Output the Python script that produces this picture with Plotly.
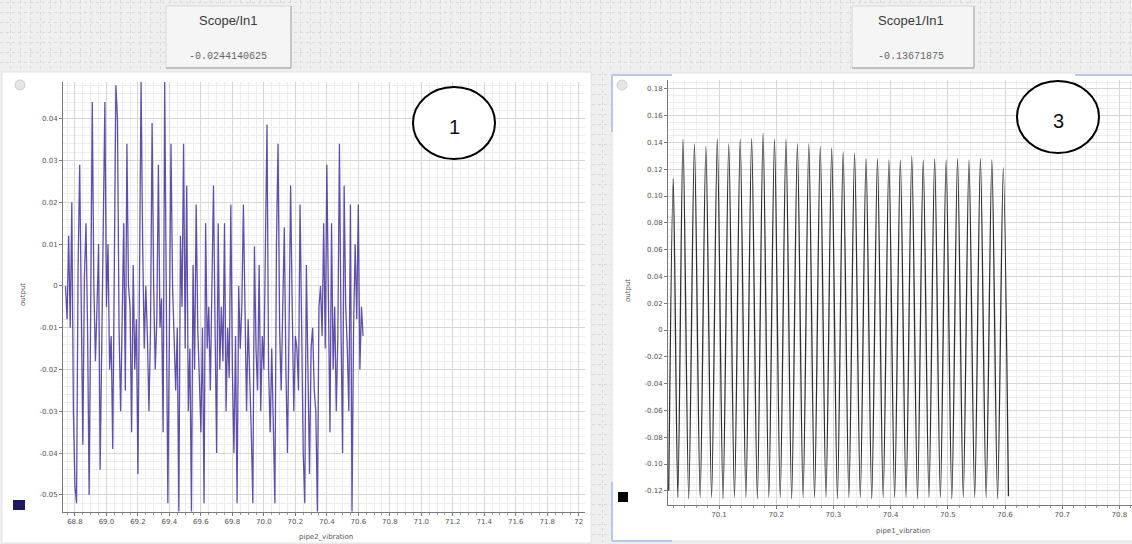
import plotly.graph_objects as go

W, H = 1132, 544

# ---------------- data ----------------
left_time = [
    68.74, 68.75, 68.76, 68.77, 68.78, 68.79, 68.80, 68.81, 68.82, 68.83,
    68.84, 68.85, 68.86, 68.87, 68.88, 68.89, 68.90, 68.91, 68.92, 68.93,
    68.94, 68.95, 68.96, 68.97, 68.98, 68.99, 69.00, 69.01, 69.02, 69.03,
    69.04, 69.05, 69.06, 69.07, 69.08, 69.09, 69.10, 69.11, 69.12, 69.13,
    69.14, 69.15, 69.16, 69.17, 69.18, 69.19, 69.20, 69.21, 69.22, 69.23,
    69.24, 69.25, 69.26, 69.27, 69.28, 69.29, 69.30, 69.31, 69.32, 69.33,
    69.34, 69.35, 69.36, 69.37, 69.38, 69.39, 69.40, 69.41, 69.42, 69.43,
    69.44, 69.45, 69.46, 69.47, 69.48, 69.49, 69.50, 69.51, 69.52, 69.53,
    69.54, 69.55, 69.56, 69.57, 69.58, 69.59, 69.60, 69.61, 69.62, 69.63,
    69.64, 69.65, 69.66, 69.67, 69.68, 69.69, 69.70, 69.71, 69.72, 69.73,
    69.74, 69.75, 69.76, 69.77, 69.78, 69.79, 69.80, 69.81, 69.82, 69.83,
    69.84, 69.85, 69.86, 69.87, 69.88, 69.89, 69.90, 69.91, 69.92, 69.93,
    69.94, 69.95, 69.96, 69.97, 69.98, 69.99, 70.00, 70.01, 70.02, 70.03,
    70.04, 70.05, 70.06, 70.07, 70.08, 70.09, 70.10, 70.11, 70.12, 70.13,
    70.14, 70.15, 70.16, 70.17, 70.18, 70.19, 70.20, 70.21, 70.22, 70.23,
    70.24, 70.25, 70.26, 70.27, 70.28, 70.29, 70.30, 70.31, 70.32, 70.33,
    70.34, 70.35, 70.36, 70.37, 70.38, 70.39, 70.40, 70.41, 70.42, 70.43,
    70.44, 70.45, 70.46, 70.47, 70.48, 70.49, 70.50, 70.51, 70.52, 70.53,
    70.54, 70.55, 70.56, 70.57, 70.58, 70.59, 70.60, 70.61, 70.62, 70.63]
left_value = [
    0.000, -0.008, 0.012, -0.010, 0.020, -0.030, -0.048, -0.052, 0.005, 0.029,
    -0.005, -0.038, 0.002, 0.015, -0.010, -0.050, -0.005, 0.044, 0.000, -0.018,
    -0.005, 0.010, -0.044, -0.010, 0.020, 0.044, -0.005, 0.010, -0.020, -0.012,
    -0.039, 0.010, 0.048, 0.040, -0.010, -0.030, -0.008, 0.015, -0.025, 0.034,
    0.000, -0.005, -0.035, 0.005, -0.020, -0.008, -0.045, 0.010, 0.049, 0.010,
    -0.015, 0.000, -0.012, -0.030, -0.010, 0.039, 0.000, -0.020, -0.008, 0.029,
    -0.010, -0.003, -0.035, 0.049, -0.010, -0.052, -0.010, 0.034, 0.000, -0.015,
    -0.025, -0.010, -0.054, 0.012, -0.005, 0.034, -0.015, 0.024, -0.030, -0.015,
    -0.054, 0.005, -0.020, 0.0195, -0.010, -0.022, -0.035, -0.010, -0.052, 0.015,
    -0.015, -0.005, -0.025, 0.000, 0.024, -0.010, -0.040, 0.015, -0.020, -0.005,
    -0.018, 0.015, -0.030, -0.010, -0.022, 0.0195, -0.020, -0.040, -0.012, -0.052,
    0.000, -0.015, -0.005, 0.0195, -0.010, -0.030, -0.008, -0.020, -0.035, -0.052,
    0.0095, -0.015, -0.025, 0.005, -0.030, -0.012, -0.020, 0.010, 0.0386, -0.020,
    -0.035, -0.015, -0.030, -0.052, 0.010, 0.034, -0.010, -0.025, -0.005, 0.014,
    -0.020, -0.040, -0.010, 0.024, -0.005, -0.030, -0.012, -0.015, -0.025, 0.0195,
    -0.010, -0.040, -0.052, 0.005, -0.020, -0.045, -0.015, -0.010, -0.025, -0.030,
    -0.054, -0.005, 0.000, -0.012, 0.015, -0.015, 0.029, -0.010, -0.035, 0.015,
    -0.020, -0.005, -0.030, -0.012, 0.034, -0.010, -0.040, 0.024, -0.005, -0.015,
    -0.030, 0.0195, -0.054, -0.010, 0.010, -0.008, 0.0195, -0.020, -0.005, -0.012]
assert len(left_time) == len(left_value)

right_peak_time = [70.020, 70.037, 70.057, 70.077, 70.097, 70.117, 70.137, 70.157, 70.177, 70.197,
                   70.217, 70.237, 70.257, 70.277, 70.297, 70.317, 70.337, 70.357, 70.377, 70.397,
                   70.417, 70.437, 70.457, 70.477, 70.497, 70.517, 70.537, 70.557, 70.577, 70.597]
right_peak_value = [0.113, 0.1425, 0.139, 0.137, 0.1425, 0.139, 0.1425, 0.143, 0.147, 0.1425,
                    0.1425, 0.139, 0.139, 0.137, 0.136, 0.133, 0.132, 0.128, 0.128, 0.127,
                    0.127, 0.130, 0.127, 0.128, 0.127, 0.128, 0.127, 0.128, 0.127, 0.121]
right_trough_time = [70.012, 70.028, 70.047, 70.067, 70.087, 70.107, 70.127, 70.147, 70.167, 70.187,
                     70.207, 70.227, 70.247, 70.267, 70.287, 70.307, 70.327, 70.347, 70.367, 70.387,
                     70.407, 70.427, 70.447, 70.467, 70.487, 70.507, 70.527, 70.547, 70.567, 70.587,
                     70.606]
right_trough_value = [-0.120, -0.125, -0.126, -0.125, -0.125, -0.126, -0.125, -0.125, -0.126, -0.125,
                      -0.125, -0.126, -0.125, -0.125, -0.125, -0.126, -0.125, -0.125, -0.126, -0.125,
                      -0.125, -0.125, -0.126, -0.125, -0.125, -0.126, -0.125, -0.125, -0.125, -0.126,
                      -0.124]

left_xticks = [68.8, 69.0, 69.2, 69.4, 69.6, 69.8, 70.0, 70.2, 70.4, 70.6, 70.8,
               71.0, 71.2, 71.4, 71.6, 71.8, 72.0]
left_xlabels = ["68.8", "69.0", "69.2", "69.4", "69.6", "69.8", "70.0", "70.2", "70.4",
                "70.6", "70.8", "71.0", "71.2", "71.4", "71.6", "71.8", "72"]
left_yticks = [-0.05, -0.04, -0.03, -0.02, -0.01, 0, 0.01, 0.02, 0.03, 0.04]
left_ylabels = ["-0.05", "-0.04", "-0.03", "-0.02", "-0.01", "0", "0.01", "0.02", "0.03", "0.04"]
right_xticks = [70.1, 70.2, 70.3, 70.4, 70.5, 70.6, 70.7, 70.8]
right_xlabels = ["70.1", "70.2", "70.3", "70.4", "70.5", "70.6", "70.7", "70.8"]
right_yticks = [-0.12, -0.10, -0.08, -0.06, -0.04, -0.02, 0, 0.02, 0.04, 0.06, 0.08,
                0.10, 0.12, 0.14, 0.16, 0.18]
right_ylabels = ["-0.12", "-0.10", "-0.08", "-0.06", "-0.04", "-0.02", "0", "0.02", "0.04",
                 "0.06", "0.08", "0.10", "0.12", "0.14", "0.16", "0.18"]

left_title, left_readout = "Scope/In1", "-0.0244140625"
right_title, right_readout = "Scope1/In1", "-0.13671875"

# interleave troughs and peaks of the right signal
right_time, right_value = [], []
for i in range(len(right_peak_time)):
    right_time += [right_trough_time[i], right_peak_time[i]]
    right_value += [right_trough_value[i], right_peak_value[i]]
right_time.append(right_trough_time[-1])
right_value.append(right_trough_value[-1])


def px(x):
    return x / W


def py(y):
    return 1 - y / H


fig = go.Figure()
fig.add_trace(go.Scatter(x=left_time, y=left_value, mode="lines",
                         line=dict(color="rgba(62,42,152,0.82)", width=1.3),
                         xaxis="x", yaxis="y", showlegend=False, hoverinfo="skip"))
fig.add_trace(go.Scatter(x=right_time, y=right_value, mode="lines",
                         line=dict(color="#303030", width=1.3, shape="spline", smoothing=0.8),
                         xaxis="x2", yaxis="y2", showlegend=False, hoverinfo="skip"))
fig.add_trace(go.Scatter(x=[], y=[], xaxis="x3", yaxis="y3", showlegend=False))
fig.add_trace(go.Scatter(x=[], y=[], xaxis="x4", yaxis="y4", showlegend=False))

tickfont = dict(family="DejaVu Sans", size=7, color="#555555")
common_axis = dict(showline=True, linecolor="#7a7a7a", linewidth=1, ticks="outside",
                   ticklen=3, tickcolor="#7a7a7a", tickfont=tickfont, zeroline=False,
                   showgrid=True, gridcolor="#d6d6d6", gridwidth=1)
bg_axis = dict(showgrid=True, gridcolor="#dadada", griddash="dot", showticklabels=False,
               zeroline=False, ticks="", dtick=10)

fig.update_layout(
    width=W, height=H, margin=dict(l=0, r=0, t=0, b=0),
    paper_bgcolor="#efefef", plot_bgcolor="rgba(0,0,0,0)",
    xaxis=dict(domain=[px(63), px(585)], range=[68.724, 72.04], tickvals=left_xticks,
               ticktext=left_xlabels, anchor="y",
               minor=dict(dtick=0.05, showgrid=True, gridcolor="#ededed", ticks="outside",
                          ticklen=2, tickcolor="#9a9a9a"), **common_axis),
    yaxis=dict(domain=[py(512), py(82)], range=[-0.0541, 0.0488], tickvals=left_yticks,
               ticktext=left_ylabels, anchor="x",
               minor=dict(dtick=0.002, showgrid=True, gridcolor="#ededed"), **common_axis),
    xaxis2=dict(domain=[px(668), 1.0], range=[70.0108, 70.822], tickvals=right_xticks,
                ticktext=right_xlabels, anchor="y2",
                minor=dict(dtick=0.02, showgrid=True, gridcolor="#ededed", ticks="outside",
                           ticklen=2, tickcolor="#9a9a9a"), **common_axis),
    yaxis2=dict(domain=[py(505), py(80)], range=[-0.1306, 0.1866], tickvals=right_yticks,
                ticktext=right_ylabels, anchor="x2",
                minor=dict(dtick=0.005, showgrid=True, gridcolor="#ededed"), **common_axis),
    xaxis3=dict(domain=[0, 1], range=[0, W], anchor="y3", **bg_axis),
    yaxis3=dict(domain=[py(72), 1], range=[0, 72], anchor="x3", **bg_axis),
    xaxis4=dict(domain=[px(592), px(611)], range=[0, 19], anchor="y4", **bg_axis),
    yaxis4=dict(domain=[0, py(72)], range=[0, 472], anchor="x4", **bg_axis),
)

shapes = []
# panel backgrounds
shapes.append(dict(type="rect", xref="paper", yref="paper", x0=px(2), x1=px(591),
                   y0=py(543), y1=py(72), fillcolor="white", line=dict(color="#e2e2e2", width=1),
                   layer="below"))
shapes.append(dict(type="rect", xref="paper", yref="paper", x0=px(612), x1=px(1133),
                   y0=py(541), y1=py(73), fillcolor="white", line=dict(color="#e2e2e2", width=1),
                   layer="below"))
# title boxes
for x0, x1 in [(166, 291), (852, 974)]:
    shapes.append(dict(type="rect", xref="paper", yref="paper", x0=px(x0), x1=px(x1),
                       y0=py(68), y1=py(6), fillcolor="#f5f5f5",
                       line=dict(color="#d8d8d8", width=1), layer="above"))
    shapes.append(dict(type="line", xref="paper", yref="paper", x0=px(x1), x1=px(x1),
                       y0=py(68), y1=py(6), line=dict(color="#bcbcbc", width=1.5), layer="above"))
    shapes.append(dict(type="line", xref="paper", yref="paper", x0=px(x0), x1=px(x1),
                       y0=py(68), y1=py(68), line=dict(color="#b4b4b4", width=1.5), layer="above"))
# selection brackets (blue) on right panel
blue = "#b9c8ea"
for (x0, y0, x1, y1) in [(612, 75, 612, 132), (612, 482, 612, 541), (612, 75, 672, 75),
                         (612, 541, 672, 541), (1075, 75, 1132, 75)]:
    shapes.append(dict(type="line", xref="paper", yref="paper", x0=px(x0), x1=px(x1),
                       y0=py(y0), y1=py(y1), line=dict(color=blue, width=2), layer="above"))
# small icons and legend swatches
shapes.append(dict(type="circle", xref="paper", yref="paper", x0=px(15), x1=px(25),
                   y0=py(90), y1=py(80), fillcolor="#e6e6e6", line=dict(color="#cccccc", width=1)))
shapes.append(dict(type="circle", xref="paper", yref="paper", x0=px(617), x1=px(627),
                   y0=py(90), y1=py(80), fillcolor="#e6e6e6", line=dict(color="#cccccc", width=1)))
shapes.append(dict(type="rect", xref="paper", yref="paper", x0=px(13), x1=px(25),
                   y0=py(510), y1=py(500), fillcolor="#1d1b5e", line=dict(width=0)))
shapes.append(dict(type="rect", xref="paper", yref="paper", x0=px(618), x1=px(628),
                   y0=py(502), y1=py(492), fillcolor="#000000", line=dict(width=0)))
# numbered ellipses
for cx, cy in [(454, 123), (1058, 117)]:
    shapes.append(dict(type="circle", xref="paper", yref="paper", x0=px(cx - 41), x1=px(cx + 41),
                       y0=py(cy + 36), y1=py(cy - 36), fillcolor="white",
                       line=dict(color="black", width=2), layer="above"))
fig.update_layout(shapes=shapes)

ann = []


def text(x, y, s, size, color="#333333", family="Liberation Sans", angle=0):
    ann.append(dict(xref="paper", yref="paper", x=px(x), y=py(y), text=s, showarrow=False,
                    font=dict(size=size, color=color, family=family), textangle=angle,
                    xanchor="center", yanchor="middle", borderpad=0))


text(228, 21, left_title, 13, "#3a3a3a", "Liberation Sans")
text(228, 57, left_readout, 10, "#666666", "Liberation Mono")
text(911, 21, right_title, 13, "#3a3a3a", "Liberation Sans")
text(911, 57, right_readout, 10, "#666666", "Liberation Mono")
text(23, 295, "output", 7, "#555555", "DejaVu Sans", angle=-90)
text(628, 290, "output", 7, "#555555", "DejaVu Sans", angle=-90)
text(326, 537, "pipe2_vibration", 7, "#555555", "DejaVu Sans")
text(903, 531, "pipe1_vibration", 7, "#555555", "DejaVu Sans")
text(454, 127, "1", 20, "#111111", "Liberation Sans")
text(1058, 121, "3", 20, "#111111", "Liberation Sans")
fig.update_layout(annotations=ann)

# the page's default body margin would shift the figure; remove it
fig.write_html("out.html", config={"displayModeBar": False},
               post_script="document.body.style.margin='0px';")
